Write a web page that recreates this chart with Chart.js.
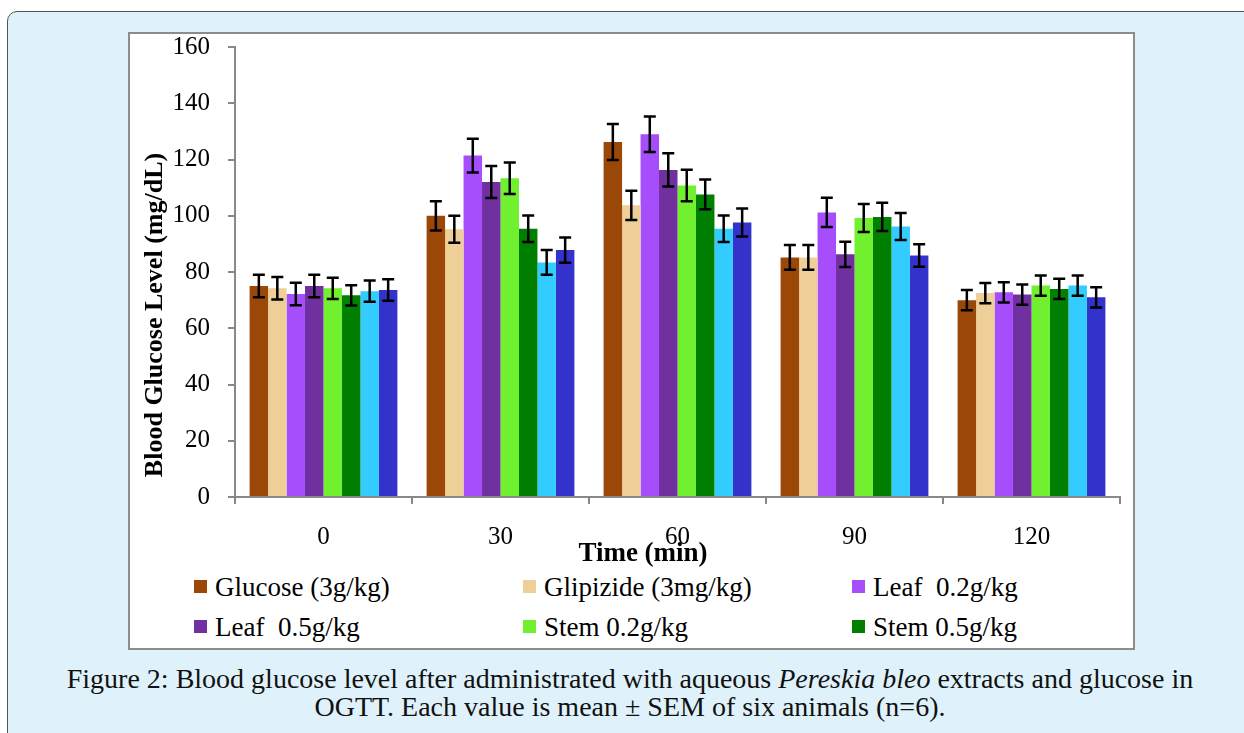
<!DOCTYPE html>
<html>
<head>
<meta charset="utf-8">
<script src="https://cdn.jsdelivr.net/npm/chart.js@4.4.0/dist/chart.umd.min.js"></script>
<style>
  body { margin: 0; background: #fff; width: 1244px; height: 733px; overflow: hidden; position: relative; font-family: "Liberation Serif", serif; }
  #frame { position: absolute; left: 7px; top: 11px; width: 1260px; height: 760px; background: #dff1fb; border: 1.5px solid #555; border-radius: 10px; }
  #box { position: absolute; left: 128px; top: 32px; width: 1003px; height: 614px; background: #fff; border: 2px solid #8c8c8c; }
  #myChart { position: absolute; left: 128px; top: 14px; }
  .leg { position: absolute; font-size: 27px; color: #000; white-space: pre; line-height: 30px; }
  .sw { position: absolute; width: 13px; height: 13px; }
  .axt { position: absolute; font-weight: bold; font-size: 27px; line-height: 30px; height: 30px; text-align: center; color: #000; white-space: pre; }
  #xTitle { left: 443px; width: 400px; top: 537px; }
  #yTitle { left: -46px; width: 400px; top: 300px; font-size: 26px; transform: rotate(-90deg); }
  #caption { position: absolute; left: 7px; width: 1246px; top: 665px; text-align: center; font-size: 28px; line-height: 28px; color: #111; }
</style>
</head>
<body>
<div id="frame"></div>
<div id="box"></div>
<canvas id="myChart" width="1005" height="554"></canvas>
<div id="xTitle" class="axt">Time (min)</div>
<div id="yTitle" class="axt">Blood Glucose Level (mg/dL)</div>
<div id="legend"></div>
<div id="caption">Figure 2: Blood glucose level after administrated with aqueous <i>Pereskia bleo</i> extracts and glucose in<br>OGTT. Each value is mean ± SEM of six animals (n=6).</div>
<script>
const timeLabels = ['0', '30', '60', '90', '120']

const seriesNames = ['Glucose (3g/kg)', 'Glipizide (3mg/kg)', 'Leaf  0.2g/kg', 'Leaf  0.5g/kg', 'Stem 0.2g/kg', 'Stem 0.5g/kg', 'Series 7', 'Series 8']
const seriesColors = ['#9a4708', '#eecf97', '#a64dfc', '#7030a0', '#70f02e', '#007f00', '#33ccff', '#3333cc']

const glucose  = [75, 100, 126.2, 85.2, 70]
const glipizide = [74.2, 95.2, 103.7, 85.2, 72.5]
const leaf02   = [72.2, 121.4, 129, 101.2, 72.8]
const leaf05   = [75, 112, 116.3, 86.3, 72]
const stem02   = [74.2, 113.3, 110.8, 99.2, 75.2]
const stem05   = [71.7, 95.4, 107.6, 99.6, 74]
const series7  = [73.2, 83.4, 95.4, 96.2, 75.2]
const series8  = [73.6, 87.8, 97.6, 85.9, 71]

const glucoseErr  = [4, 5.2, 6.4, 4.4, 3.6]
const glipizideErr = [4, 4.8, 5.2, 4.4, 3.6]
const leaf02Err   = [4, 6, 6.3, 5.2, 3.6]
const leaf05Err   = [4, 5.7, 5.9, 4.5, 3.6]
const stem02Err   = [3.8, 5.6, 5.6, 5, 3.6]
const stem05Err   = [3.6, 4.7, 5.3, 5, 3.6]
const series7Err  = [3.8, 4.4, 4.7, 4.8, 3.6]
const series8Err  = [3.8, 4.5, 5, 4, 3.6]

const allValues = [glucose, glipizide, leaf02, leaf05, stem02, stem05, series7, series8]
const allErrors = [glucoseErr, glipizideErr, leaf02Err, leaf05Err, stem02Err, stem05Err, series7Err, series8Err]

const datasets = allValues.map((vals, i) => ({
    label: seriesNames[i],
    data: vals,
    errors: allErrors[i],
    backgroundColor: seriesColors[i],
    borderWidth: 0,
    barPercentage: 1,
    categoryPercentage: 0.835
}))

// error bars drawn from the values through the y scale
const errorBars = {
    id: 'errorBars',
    afterDatasetsDraw(chart) {
        const ctx = chart.ctx
        const y = chart.scales.y
        ctx.save()
        ctx.strokeStyle = '#000'
        ctx.lineWidth = 2.5
        chart.data.datasets.forEach((ds, i) => {
            const meta = chart.getDatasetMeta(i)
            meta.data.forEach((bar, j) => {
                const v = ds.data[j], e = ds.errors[j]
                const top = y.getPixelForValue(v + e)
                const bot = y.getPixelForValue(v - e)
                const x = bar.x
                ctx.beginPath()
                ctx.moveTo(x, top); ctx.lineTo(x, bot)
                ctx.moveTo(x - 6, top); ctx.lineTo(x + 6, top)
                ctx.moveTo(x - 6, bot); ctx.lineTo(x + 6, bot)
                ctx.stroke()
            })
        })
        ctx.restore()
    }
}

var ctx = document.getElementById('myChart').getContext('2d');
var myChart = new Chart(ctx, {
    type: 'bar',
    data: { labels: timeLabels, datasets: datasets },
    options: {
        responsive: false,
        animation: false,
        layout: { padding: { left: 0, right: 13, top: 15, bottom: 0 } },
        plugins: { legend: { display: false }, tooltip: { enabled: false } },
        scales: {
            x: {
                afterFit: s => { s.height = 71 },
                grid: { drawOnChartArea: false, drawTicks: true, tickLength: 7, color: '#888', lineWidth: 2 },
                border: { color: '#888', width: 2 },
                ticks: { color: '#000', padding: 18, font: { family: 'Liberation Serif', size: 25 } }
            },
            y: {
                min: 0, max: 160,
                afterFit: s => { s.width = 107 },
                grid: { drawOnChartArea: false, drawTicks: true, tickLength: 7, color: '#888', lineWidth: 2 },
                border: { color: '#888', width: 2 },
                ticks: { stepSize: 20, color: '#000', padding: 18, font: { family: 'Liberation Serif', size: 25 } }
            }
        }
    },
    plugins: [errorBars]
});

// legend: only the first six series are shown in the figure
const legendCols = [194, 523, 852]
const legendRows = [587, 627]
const legend = document.getElementById('legend')
seriesNames.slice(0, 6).forEach((name, i) => {
    const cx = legendCols[i % 3], cy = legendRows[Math.floor(i / 3)]
    const sw = document.createElement('div')
    sw.className = 'sw'
    sw.style.left = cx + 'px'
    sw.style.top = (cy - 7) + 'px'
    sw.style.background = seriesColors[i]
    legend.appendChild(sw)
    const t = document.createElement('div')
    t.className = 'leg'
    t.style.left = (cx + 21) + 'px'
    t.style.top = (cy - 15) + 'px'
    t.textContent = name
    legend.appendChild(t)
})
</script>
</body>
</html>
